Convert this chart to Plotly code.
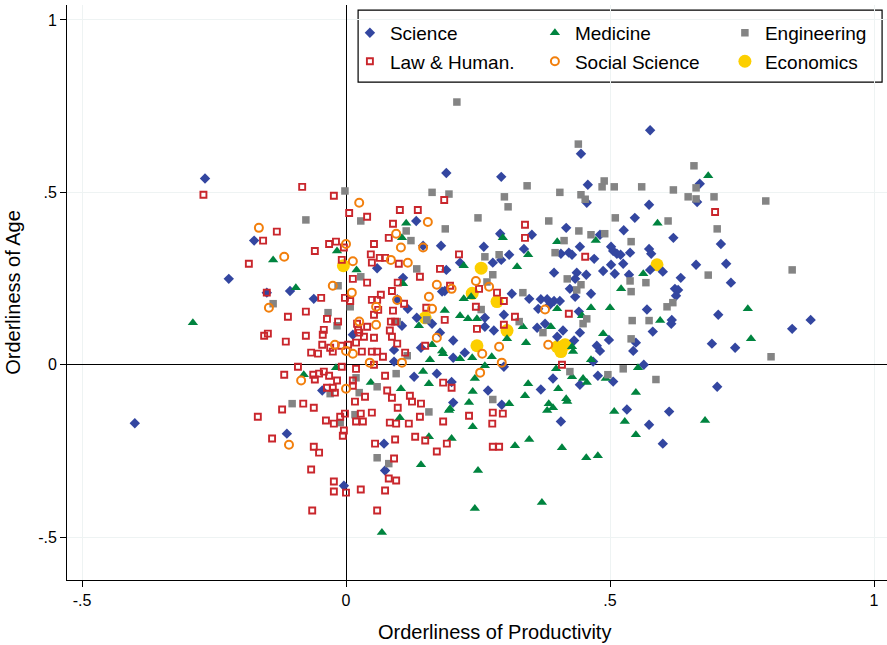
import plotly.graph_objects as go

# ---------------- data (orderliness of productivity, orderliness of age) ----------------
sci_x = [-0.40, -0.267, -0.222, -0.174, -0.15, -0.112, -0.106, -0.061, -0.045, -0.004,
         0.013, 0.059, 0.072, 0.074, 0.091, 0.091, 0.097, 0.106, 0.108, 0.117,
         0.129, 0.133, 0.134, 0.142, 0.146, 0.163, 0.172, 0.178, 0.18, 0.182,
         0.187, 0.19, 0.19, 0.20, 0.203, 0.203, 0.203, 0.216, 0.225, 0.261,
         0.263, 0.263, 0.269, 0.278, 0.28, 0.292, 0.294, 0.294, 0.295, 0.299,
         0.299, 0.309, 0.314, 0.337, 0.347, 0.352, 0.362, 0.364, 0.369, 0.369,
         0.377, 0.381, 0.386, 0.392, 0.394, 0.394, 0.40, 0.405, 0.407, 0.407,
         0.411, 0.417, 0.422, 0.424, 0.428, 0.432, 0.434, 0.434, 0.437, 0.441,
         0.443, 0.443, 0.443, 0.445, 0.455, 0.456, 0.458, 0.464, 0.468, 0.47,
         0.475, 0.477, 0.481, 0.481, 0.487, 0.498, 0.502, 0.502, 0.506, 0.506,
         0.509, 0.513, 0.52, 0.525, 0.526, 0.532, 0.536, 0.538, 0.544, 0.547,
         0.549, 0.564, 0.57, 0.574, 0.574, 0.574, 0.576, 0.576, 0.578, 0.581,
         0.60, 0.60, 0.612, 0.616, 0.617, 0.62, 0.623, 0.625, 0.629, 0.634,
         0.663, 0.665, 0.67, 0.693, 0.703, 0.705, 0.71, 0.72, 0.729, 0.737,
         0.845, 0.88]
sci_y = [-0.17, 0.54, 0.249, 0.36, 0.209, -0.20, 0.214, 0.191, -0.075, -0.351,
         0.087, 0.28, -0.229, -0.307, 0.043, 0.009, 0.19, 0.113, 0.252, 0.162,
         -0.035, 0.417, 0.136, 0.049, 0.345, 0.119, -0.026, 0.093, 0.345, 0.212,
         0.214, 0.556, 0.275, -0.05, 0.07, 0.02, -0.11, 0.296, 0.035, 0.342,
         0.136, 0.11, -0.075, 0.296, 0.099, 0.38, 0.304, 0.545, -0.116, 0.145,
         -0.006, 0.319, 0.206, 0.336, 0.191, 0.377, 0.107, 0.162, 0.19, -0.072,
         0.119, 0.19, 0.174, -0.04, 0.185, 0.267, 0.081, 0.185, 0.322, -0.165,
         0.099, 0.397, 0.325, 0.22, 0.319, 0.07, 0.249, 0.197, 0.267, 0.154,
         0.342, 0.093, -0.058, 0.612, 0.261, 0.47, 0.522, 0.206, 0.009, 0.307,
         0.055, -0.032, 0.04, 0.377, 0.272, 0.072, 0.342, 0.29, 0.33, -0.049,
         0.264, 0.322, 0.319, 0.293, 0.39, -0.13, 0.261, 0.325, 0.04, 0.426,
         0.064, 0.0, 0.16, 0.464, 0.336, -0.174, 0.68, 0.275, 0.322, 0.096,
         0.27, -0.229, -0.136, 0.119, 0.13, 0.368, 0.22, 0.2, 0.217, 0.252,
         0.29, 0.472, 0.525, 0.061, -0.064, 0.145, 0.35, 0.293, 0.238, 0.049,
         0.104, 0.13]

med_x = [-0.29, -0.138, -0.095, -0.08, -0.017, -0.019, 0.02, 0.047, 0.068, 0.102,
         0.104, 0.106, 0.108, 0.114, 0.138, 0.142, 0.146, 0.157, 0.157, 0.159,
         0.163, 0.182, 0.184, 0.187, 0.195, 0.197, 0.20, 0.216, 0.216, 0.223,
         0.223, 0.231, 0.233, 0.237, 0.239, 0.24, 0.24, 0.244, 0.244, 0.248,
         0.25, 0.263, 0.276, 0.297, 0.305, 0.309, 0.32, 0.324, 0.335, 0.339,
         0.341, 0.345, 0.345, 0.347, 0.371, 0.381, 0.384, 0.388, 0.392, 0.398,
         0.40, 0.40, 0.402, 0.409, 0.417, 0.419, 0.428, 0.428, 0.43, 0.447,
         0.449, 0.455, 0.456, 0.464, 0.464, 0.473, 0.477, 0.487, 0.492, 0.50,
         0.508, 0.521, 0.528, 0.549, 0.549, 0.553, 0.563, 0.59, 0.595, 0.68,
         0.686, 0.761, 0.767]
med_y = [0.122, 0.304, 0.223, -0.029, 0.33, -0.009, 0.275, -0.052, -0.487, -0.154,
         -0.07, 0.368, 0.235, 0.41, 0.113, -0.29, -0.02, -0.055, -0.209, 0.014,
         0.058, 0.04, 0.032, 0.157, -0.133, -0.128, -0.214, 0.142, 0.017, 0.287,
         0.191, 0.133, -0.11, 0.197, 0.02, -0.078, -0.18, -0.04, -0.417, 0.133,
         -0.307, -0.003, 0.023, 0.368, 0.075, -0.113, -0.235, 0.284, 0.11, -0.09,
         0.064, 0.319, -0.055, -0.217, -0.40, -0.133, -0.113, 0.11, -0.125, -0.012,
         0.162, 0.357, -0.07, -0.241, -0.099, -0.107, 0.052, -0.035, 0.038, 0.142,
         -0.04, -0.27, -0.052, 0.165, 0.014, 0.36, -0.264, 0.09, -0.04, 0.165,
         -0.136, 0.22, -0.165, -0.081, -0.203, -0.009, 0.264, 0.41, 0.128, -0.162,
         0.548, 0.162, 0.075]

eng_x = [-0.138, -0.102, -0.076, -0.034, -0.03, -0.017, -0.015, -0.011, -0.002, 0.008,
         0.017, 0.019, 0.025, 0.028, 0.028, 0.059, 0.059, 0.081, 0.095, 0.097,
         0.114, 0.116, 0.123, 0.134, 0.153, 0.157, 0.163, 0.188, 0.195, 0.21,
         0.25, 0.256, 0.263, 0.267, 0.278, 0.278, 0.29, 0.30, 0.307, 0.328,
         0.335, 0.343, 0.373, 0.384, 0.396, 0.405, 0.413, 0.419, 0.424, 0.437,
         0.44, 0.441, 0.445, 0.445, 0.449, 0.453, 0.456, 0.464, 0.485, 0.489,
         0.49, 0.496, 0.508, 0.51, 0.525, 0.538, 0.54, 0.54, 0.54, 0.542,
         0.56, 0.568, 0.574, 0.587, 0.608, 0.61, 0.619, 0.62, 0.648, 0.659,
         0.663, 0.663, 0.686, 0.697, 0.703, 0.795, 0.805, 0.845]
eng_y = [0.177, -0.113, 0.42, 0.151, -0.084, 0.113, 0.229, -0.168, 0.504, 0.168,
         -0.145, -0.038, -0.081, 0.417, 0.255, -0.064, -0.27, -0.287, -0.026, 0.125,
         0.388, 0.026, 0.36, 0.278, 0.13, -0.137, 0.50, 0.394, 0.495, 0.762,
         0.426, 0.16, 0.313, 0.24, 0.261, -0.101, 0.319, 0.487, 0.458, 0.125,
         0.209, 0.519, 0.093, 0.417, 0.325, 0.50, 0.36, 0.249, -0.02, 0.217,
         0.64, 0.388, 0.493, 0.232, 0.119, 0.48, 0.133, 0.377, 0.516, 0.533,
         0.38, -0.029, 0.516, 0.426, -0.012, 0.243, 0.357, 0.212, 0.075, 0.128,
         0.516, 0.238, 0.128, -0.043, 0.168, 0.417, 0.18, 0.507, 0.487, 0.577,
         0.513, 0.481, 0.26, 0.487, 0.394, 0.475, 0.023, 0.275]

law_x = [-0.27, -0.184, -0.167, -0.157, -0.155, -0.148, -0.15, -0.14, -0.131, -0.121,
         -0.117, -0.114, -0.11, -0.091, -0.083, -0.081, -0.076, -0.076, -0.066, -0.066,
         -0.064, -0.062, -0.061, -0.061, -0.059, -0.059, -0.053, -0.051, -0.051, -0.047,
         -0.045, -0.044, -0.042, -0.042, -0.038, -0.036, -0.036, -0.032, -0.032, -0.03,
         -0.025, -0.025, -0.023, -0.023, -0.023, -0.023, -0.021, -0.019, -0.017, -0.015,
         -0.011, -0.009, -0.008, -0.008, -0.006, -0.004, -0.004, -0.002, -0.002, 0.0,
         0.004, 0.006, 0.008, 0.013, 0.013, 0.013, 0.017, 0.019, 0.019, 0.019,
         0.021, 0.023, 0.025, 0.028, 0.028, 0.03, 0.032, 0.034, 0.036, 0.04,
         0.04, 0.04, 0.047, 0.049, 0.049, 0.049, 0.049, 0.053, 0.053, 0.053,
         0.053, 0.055, 0.059, 0.059, 0.059, 0.061, 0.064, 0.066, 0.07, 0.074,
         0.074, 0.074, 0.078, 0.081, 0.081, 0.083, 0.083, 0.085, 0.087, 0.087,
         0.087, 0.089, 0.089, 0.091, 0.093, 0.093, 0.095, 0.095, 0.097, 0.098,
         0.098, 0.10, 0.102, 0.11, 0.112, 0.119, 0.121, 0.125, 0.131, 0.136,
         0.14, 0.14, 0.142, 0.15, 0.15, 0.152, 0.172, 0.178, 0.184, 0.184,
         0.186, 0.187, 0.191, 0.197, 0.20, 0.214, 0.233, 0.246, 0.248, 0.252,
         0.277, 0.278, 0.278, 0.286, 0.29, 0.297, 0.299, 0.299, 0.32, 0.339,
         0.339, 0.409, 0.422, 0.453, 0.699]
law_y = [0.493, 0.293, -0.151, 0.36, 0.084, 0.09, 0.209, -0.214, 0.386, -0.13,
         -0.029, 0.067, 0.139, -0.006, 0.516, -0.113, 0.154, 0.084, 0.035, -0.304,
         -0.423, -0.029, -0.238, -0.125, 0.33, -0.043, 0.032, -0.255, -0.026, 0.194,
         0.058, 0.087, 0.101, -0.02, -0.162, 0.133, -0.067, 0.35, -0.032, 0.049,
         0.038, -0.067, 0.49, -0.171, -0.339, -0.368, -0.081, 0.357, -0.046, 0.125,
         -0.151, 0.055, 0.304, -0.006, -0.206, 0.34, -0.191, 0.194, -0.142, -0.371,
         0.058, 0.44, 0.185, 0.249, -0.046, -0.061, -0.107, 0.064, -0.012, -0.165,
         0.119, 0.101, 0.093, -0.142, -0.362, 0.038, -0.165, 0.081, -0.093, 0.429,
         0.238, 0.11, 0.32, 0.296, 0.188, 0.038, -0.139, 0.35, 0.145, 0.078,
         0.0, -0.229, 0.188, 0.038, -0.423, 0.159, 0.31, 0.203, 0.023, 0.31,
         -0.032, -0.365, -0.075, 0.368, -0.33, 0.099, -0.168, 0.125, 0.214, 0.081,
         -0.096, 0.409, 0.157, -0.272, 0.125, -0.217, -0.171, -0.336, 0.061, 0.238,
         -0.125, 0.293, 0.449, 0.177, 0.035, -0.171, -0.09, -0.107, -0.209, 0.449,
         0.255, -0.151, -0.113, 0.055, -0.22, 0.165, -0.252, 0.278, -0.052, -0.165,
         0.478, 0.13, -0.229, 0.229, -0.067, 0.32, -0.148, 0.168, 0.104, 0.22,
         -0.171, -0.139, -0.238, 0.209, -0.238, -0.142, 0.185, 0.116, 0.139, 0.406,
         0.368, 0.0, 0.148, 0.313, 0.443]

soc_x = [-0.165, -0.146, -0.117, -0.108, -0.085, -0.025, -0.021, 0.0, 0.0, 0.0,
         0.011, 0.013, 0.013, 0.025, 0.025, 0.045, 0.057, 0.057, 0.085, 0.095,
         0.097, 0.104, 0.106, 0.117, 0.146, 0.155, 0.157, 0.163, 0.172, 0.172,
         0.20, 0.246, 0.254, 0.258, 0.271, 0.29, 0.295, 0.377, 0.383]
soc_y = [0.397, 0.165, 0.313, -0.232, -0.046, 0.229, 0.058, 0.35, 0.04, -0.07,
         0.209, 0.30, 0.032, 0.47, 0.125, 0.006, 0.168, 0.116, 0.304, 0.38,
         0.188, 0.34, 0.006, 0.296, 0.34, 0.414, 0.197, 0.162, 0.232, 0.078,
         0.22, 0.243, -0.023, 0.032, 0.226, 0.052, 0.006, 0.16, 0.058]

eco_x = [-0.005, 0.256, 0.589, 0.239, 0.286, 0.15, 0.305, 0.248, 0.40, 0.407, 0.415]
eco_y = [0.287, 0.28, 0.29, 0.207, 0.183, 0.136, 0.099, 0.055, 0.052, 0.038, 0.058]

x_ticks = [-0.5, 0, 0.5, 1]
x_tick_labels = ["-.5", "0", ".5", "1"]
y_ticks = [-0.5, 0, 0.5, 1]
y_tick_labels = ["-.5", "0", ".5", "1"]

FONT = "Liberation Sans, Arial, Helvetica, sans-serif"

fig = go.Figure()

# drawing order: economics at the bottom, social science on top
series = [
    # name, xs, ys, symbol, size, color, linewidth, legend, rank, legend column width
    ("Economics", eco_x, eco_y, "circle", 13, "#fccf00", 0, "legend2", 6, 110),
    ("Science", sci_x, sci_y, "diamond", 8, "#3346a0", 0, "legend", 1, 140),
    ("Medicine", med_x, med_y, "triangle-up", 9, "#00843f", 0, "legend", 2, 145),
    ("Engineering", eng_x, eng_y, "square", 7.5, "#848484", 0, "legend", 3, 110),
    ("Law & Human.", law_x, law_y, "square-open", 6, "#c9262c", 1.9, "legend2", 4, 140),
    ("Social Science", soc_x, soc_y, "circle-open", 8, "#f27f0c", 2, "legend2", 5, 145),
]
for name, xs, ys, sym, size, col, lw, leg, rank, lwid in series:
    marker = dict(symbol=sym, size=size, color=col)
    if lw:
        marker["line"] = dict(color=col, width=lw)
    else:
        marker["line"] = dict(width=0)
    fig.add_trace(go.Scatter(x=xs, y=ys, mode="markers", name=name, marker=marker,
                             legend=leg, legendrank=rank, legendwidth=lwid))

axis_common = dict(
    showgrid=True, gridcolor="#eef3f3", gridwidth=1,
    zeroline=True, zerolinecolor="black", zerolinewidth=1,
    showline=True, linecolor="black", linewidth=1,
    ticks="outside", ticklen=6, tickcolor="black",
    tickfont=dict(family=FONT, size=16, color="black"),
    mirror=False, automargin=False,
)

fig.update_layout(
    width=887, height=645,
    margin=dict(l=67, r=0, t=5, b=65, autoexpand=False),
    paper_bgcolor="white", plot_bgcolor="white",
    font=dict(family=FONT, color="black"),
    xaxis=dict(range=[-0.5284, 1.0246], tickvals=x_ticks, ticktext=x_tick_labels,
               **axis_common),
    yaxis=dict(range=[-0.6246, 1.0435], tickvals=y_ticks, ticktext=y_tick_labels,
               title=dict(text="Orderliness of Age", font=dict(size=20), standoff=12),
               **axis_common),
    legend=dict(orientation="h", x=0.345, xanchor="left", y=0.9845, yanchor="top",
                entrywidthmode="pixels", bgcolor="rgba(0,0,0,0)",
                font=dict(family=FONT, size=19), traceorder="normal"),
    legend2=dict(orientation="h", x=0.345, xanchor="left", y=0.935, yanchor="top",
                 entrywidthmode="pixels", bgcolor="rgba(0,0,0,0)",
                 font=dict(family=FONT, size=19), traceorder="normal"),
    shapes=[dict(type="rect", xref="paper", yref="paper", x0=0.355, x1=0.994,
                 y0=0.866, y1=0.991, line=dict(color="black", width=1.2),
                 fillcolor="white", layer="below")],
    annotations=[dict(text="Orderliness of Productivity", xref="paper", yref="paper",
                      x=0.521, y=-0.0904, xanchor="center", yanchor="middle",
                      showarrow=False, font=dict(family=FONT, size=20, color="black"))],
)

fig.write_html("out.html", config={"displayModeBar": False},
               post_script="document.body.style.margin='0';document.body.style.overflow='hidden';")
